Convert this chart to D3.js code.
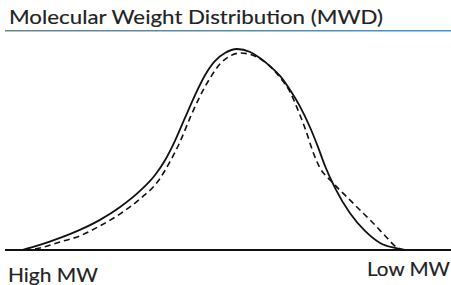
<!DOCTYPE html>
<html>
<head>
<meta charset="utf-8">
<script src="https://cdn.jsdelivr.net/npm/d3@7"></script>
<style>
  body { margin: 0; background: #fff; }
  svg { display: block; }
  text { font-family: Lato, "Open Sans", sans-serif; fill: #222; stroke: #222; stroke-width: 0.15; }
</style>
</head>
<body>
<div id="chart"></div>
<script>
// relative elution position (0 = high MW end, 100 = low MW end), response in % of peak
var solidX = [0, 4.6, 9.8, 14.9, 20.1, 25.3, 30.4, 34.3, 36.9, 39.4, 42, 44.6, 47.2, 49.7, 52.3, 55.4,
              58.8, 61.3, 63.9, 66.5, 69.1, 71.6, 74.2, 76.3, 78.1, 80.7, 84.5, 88.4, 92.3, 96.1, 98.7];
var solidY = [0, 2.5, 6, 10, 15, 21.4, 29.4, 37.3, 44.8, 54.2, 65.7, 77.1, 87.1, 94, 98, 100,
              98.5, 95.5, 91.5, 86.6, 79.6, 71.6, 61.2, 51.2, 41.8, 30.8, 18.4, 9.5, 3.5, 1, 0];

var dashX = [0.8, 4.6, 9.8, 14.9, 20.1, 25.3, 30.4, 35.1, 38.1, 40.7, 43.3, 45.9, 48.5, 51, 53.6, 56.2,
             59.3, 61.9, 64.4, 67, 69.1, 71.1, 73.2, 75, 76.8, 79.4, 83.2, 87.1, 91, 94.1, 96.1, 98.2];
var dashY = [0, 1, 4, 7, 12, 18, 25.4, 34.3, 43.8, 53.7, 65.7, 76.6, 85.6, 92.5, 96.5, 98,
             97, 94.5, 90.5, 84.6, 78.6, 69.7, 59.2, 48.8, 40.8, 34.8, 27.4, 19.9, 12.4, 6, 2, 0];

var title = "Molecular Weight Distribution (MWD)";
var axisLabels = ["High MW", "Low MW"];

var width = 451, height = 285;

var svg = d3.select("#chart").append("svg")
    .attr("width", width)
    .attr("height", height);

var x = d3.scaleLinear().domain([0, 100]).range([22, 410]);
var y = d3.scaleLinear().domain([0, 100]).range([250, 49]);

// title + rule underneath
svg.append("text")
    .attr("x", 9)
    .attr("y", 24)
    .attr("font-size", 19)
    .attr("textLength", 374)
    .attr("lengthAdjust", "spacingAndGlyphs")
    .text(title);

var grad = svg.append("defs").append("linearGradient")
    .attr("id", "rule");
grad.append("stop").attr("offset", "0%").attr("stop-color", "#6a8594");
grad.append("stop").attr("offset", "100%").attr("stop-color", "#3f95cf");

svg.append("rect")
    .attr("x", 5)
    .attr("y", 30)
    .attr("width", width - 5)
    .attr("height", 1.5)
    .attr("fill", "url(#rule)");

// baseline
svg.append("line")
    .attr("x1", 5)
    .attr("x2", width)
    .attr("y1", y(0))
    .attr("y2", y(0))
    .attr("stroke", "#111")
    .attr("stroke-width", 2.2);

var line = d3.line()
    .x(function(d){ return x(d[0]); })
    .y(function(d){ return y(d[1]); })
    .curve(d3.curveMonotoneX);

svg.append("path")
    .datum(d3.zip(dashX, dashY))
    .attr("d", line)
    .attr("fill", "none")
    .attr("stroke", "#111")
    .attr("stroke-width", 1.6)
    .attr("stroke-dasharray", "6,4");

svg.append("path")
    .datum(d3.zip(solidX, solidY))
    .attr("d", line)
    .attr("fill", "none")
    .attr("stroke", "#111")
    .attr("stroke-width", 1.8);

// end labels
svg.append("text")
    .attr("x", 8)
    .attr("y", 282)
    .attr("font-size", 19)
    .attr("textLength", 90)
    .attr("lengthAdjust", "spacingAndGlyphs")
    .text(axisLabels[0]);

svg.append("text")
    .attr("x", width - 1)
    .attr("y", 276)
    .attr("font-size", 19)
    .attr("text-anchor", "end")
    .attr("textLength", 83)
    .attr("lengthAdjust", "spacingAndGlyphs")
    .text(axisLabels[1]);
</script>
</body>
</html>
